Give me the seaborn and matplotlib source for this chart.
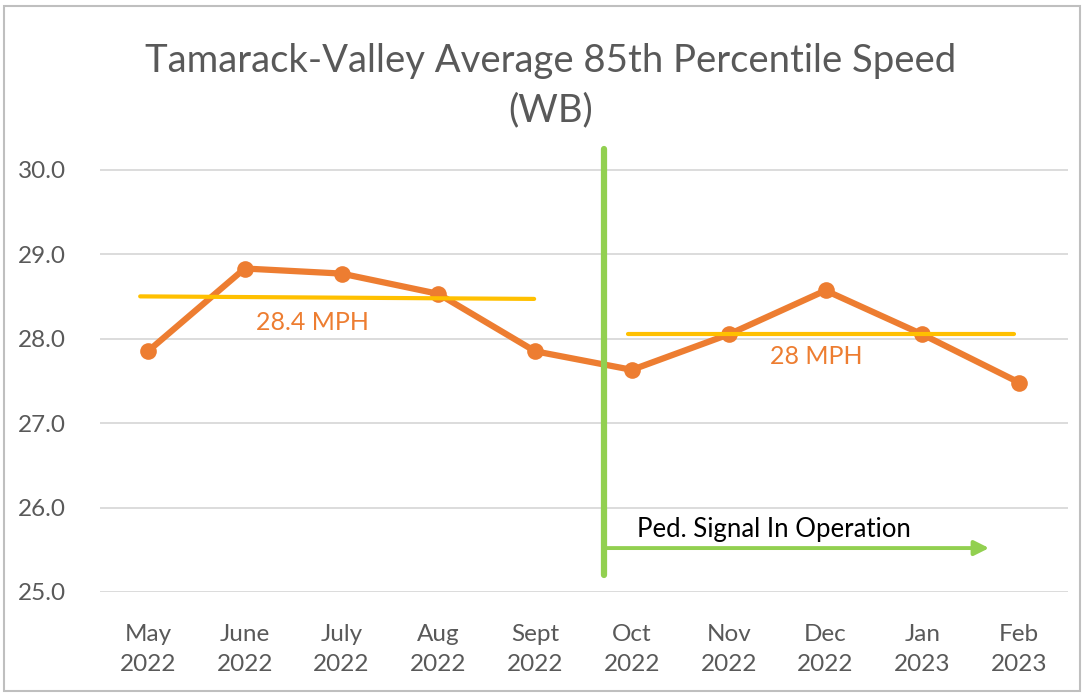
import matplotlib
matplotlib.use("Agg")
import matplotlib.pyplot as plt
import matplotlib.patches as mpatches
import seaborn as sns
import pandas as pd

# Datos
months = ["May\n2022", "June\n2022", "July\n2022", "Aug\n2022", "Sept\n2022",
          "Oct\n2022", "Nov\n2022", "Dec\n2022", "Jan\n2023", "Feb\n2023"]
speeds = [27.85, 28.83, 28.77, 28.53, 27.85, 27.63, 28.05, 28.57, 28.05, 27.48]

avg_before = [28.50, 28.47]     # línea promedio antes (inicio, fin)
avg_before_x = [-0.08, 3.99]
avg_after = [28.05, 28.05]
avg_after_x = [4.96, 8.95]
signal_x = 4.71                 # inicio del semáforo peatonal
arrow_y = 25.52
arrow_end_x = 8.69

ORANGE = "#ED7D31"
YELLOW = "#FFC000"
GREEN = "#92D050"
GRAY = "#595959"

sns.set_theme(style="white")
plt.rcParams["font.family"] = ["Lato", "DejaVu Sans"]

df = pd.DataFrame({"mes": months, "vel": speeds})

fig = plt.figure(figsize=(10.84, 6.94), dpi=100)
ax = fig.add_axes([0.0918, 0.147, 0.893, 0.645])

sns.lineplot(data=df, x="mes", y="vel", ax=ax, color=ORANGE, linewidth=4.5,
             marker="o", markersize=12, markeredgewidth=0, sort=False, zorder=3)

ax.plot(avg_before_x, avg_before, color=YELLOW, linewidth=3, zorder=4)
ax.plot(avg_after_x, avg_after, color=YELLOW, linewidth=3, zorder=4)
ax.text(1.7, 28.19, "28.4 MPH", color=ORANGE, fontsize=18, ha="center", va="center")
ax.text(6.9, 27.79, "28 MPH", color=ORANGE, fontsize=18, ha="center", va="center")

# Línea vertical y flecha del semáforo
ax.plot([signal_x, signal_x], [25.2, 30.24], color=GREEN, linewidth=4.5,
        clip_on=False, zorder=5)
ax.annotate("", xy=(arrow_end_x, arrow_y), xytext=(signal_x, arrow_y),
            arrowprops=dict(arrowstyle="-|>", color=GREEN, lw=2.8,
                            mutation_scale=22, shrinkA=0, shrinkB=0), zorder=5)
ax.text(signal_x + 0.34, 25.74, "Ped. Signal In Operation", color="black",
        fontsize=18.5, ha="left", va="center")

ax.set_xlim(-0.5, 9.5)
ax.set_ylim(25, 30.3)
ax.set_yticks([25, 26, 27, 28, 29, 30])
ax.set_yticklabels([f"{v:.1f}" for v in [25, 26, 27, 28, 29, 30]])
ax.grid(axis="y", color="#D9D9D9", linewidth=1.3)
ax.set_axisbelow(True)
for s in ax.spines.values():
    s.set_visible(False)
ax.tick_params(axis="both", colors=GRAY, labelsize=17.5, length=0)
ax.tick_params(axis="x", pad=23)
ax.tick_params(axis="y", pad=24)
for lbl in ax.get_xticklabels():
    lbl.set_linespacing(1.55)
ax.set_xlabel("")
ax.set_ylabel("")

fig.text(0.508, 0.877, "Tamarack-Valley Average 85th Percentile Speed\n(WB)",
         ha="center", va="center", fontsize=27.5, color=GRAY, linespacing=1.45)

fig.patches.append(mpatches.Rectangle((0.004, 0.004), 0.992, 0.988,
                                      transform=fig.transFigure, fill=False,
                                      edgecolor="#BFBFBF", linewidth=1.5))

fig.savefig("out.png", dpi=100)
